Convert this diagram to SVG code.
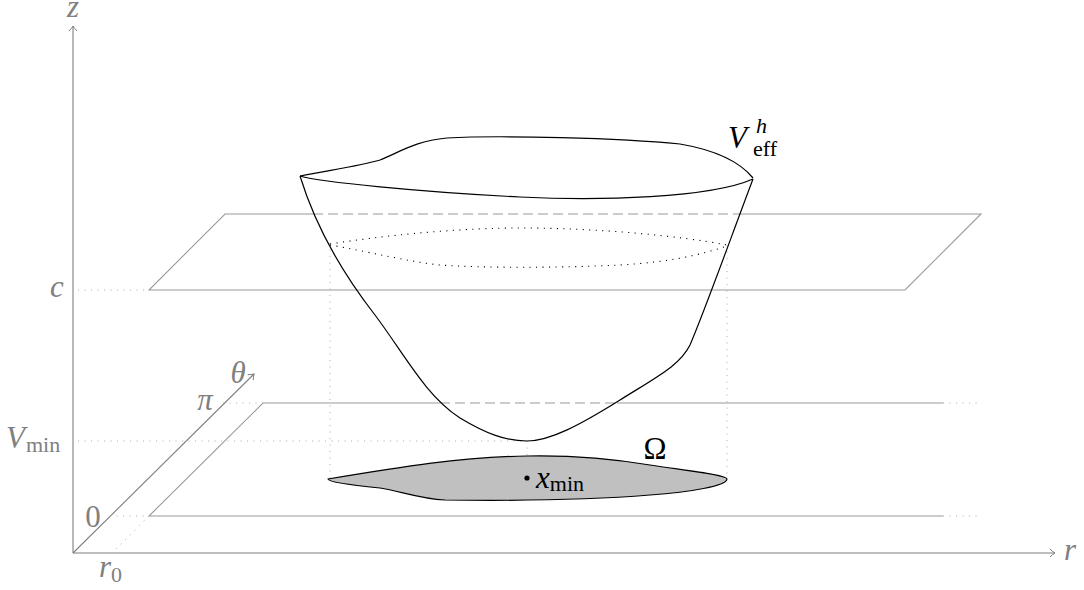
<svg xmlns="http://www.w3.org/2000/svg" width="1084" height="590" viewBox="0 0 1084 590">
<style>
.ax{stroke:#7f7f7f;stroke-width:1.1;fill:none}
.pl{stroke:#9a9a9a;stroke-width:1.1;fill:none}
.dash{stroke:#9a9a9a;stroke-width:1.1;fill:none;stroke-dasharray:10 5}
.gdot{stroke:#b0b0b0;stroke-width:1;fill:none;stroke-dasharray:1.1 5.4}
.bdot{stroke:#000;stroke-width:1.1;fill:none;stroke-dasharray:1.1 5.4}
.surf{stroke:#000;stroke-width:1.2;fill:none}
text{font-family:'Liberation Serif','Times New Roman','DejaVu Serif',serif}
.glab{font-size:31px;fill:#808080}
.blab{font-size:31px;fill:#000}
.it{font-style:italic}
.sub{font-size:22px;font-style:normal}
.subi{font-size:22px;font-style:italic}
</style>
<defs>
<marker id="arr" viewBox="-6 -5 7 10" refX="0" refY="0" markerWidth="7" markerHeight="10" markerUnits="userSpaceOnUse" orient="auto">
<path d="M-5,-4 Q-2,-1 0,0 Q-2,1 -5,4" fill="none" stroke="#7f7f7f" stroke-width="1"/>
</marker>
</defs>

<g id="axes">
<line class="ax" x1="73" y1="553" x2="73" y2="26" marker-end="url(#arr)"/>
<line class="ax" x1="73" y1="553" x2="1055" y2="553" marker-end="url(#arr)"/>
<line class="ax" x1="73" y1="553" x2="254" y2="374" marker-end="url(#arr)"/>
</g>

<g id="lower-plane">
<path class="pl" d="M943,516 L149,516 L263,403 L440,403"/>
<path class="dash" d="M440,403 L617,403"/>
<path class="pl" d="M617,403 L943,403"/>
<path class="gdot" d="M943,403 L980,403"/>
<path class="gdot" d="M943,516 L980,516"/>
<path class="gdot" d="M110,516 L149,516"/>
<path class="gdot" d="M223,403 L263,403"/>
<path class="gdot" d="M149,516 L112,553"/>
</g>

<g id="upper-plane">
<path class="pl" d="M313,214 L225,214 L149,290 L905,290 L981,214 L740,214"/>
<path class="dash" d="M313,214 L740,214"/>
<path class="gdot" d="M78,290 L149,290"/>
</g>

<g id="guides">
<path class="gdot" d="M78,441 L527,441"/>
<path class="gdot" d="M330,243 L330,478"/>
<path class="gdot" d="M727,245 L727,479"/>
<path class="gdot" d="M527,441 L527,478"/>
</g>

<g id="omega">
<path d="M328,479 C400,467 460,457 527,456 C580,455 620,460 650,465 C690,471 727,475 727,479 C727,486 690,492 650,495 C600,499 520,501 445,500 C420,499 400,491 380,488 C350,485 328,482 328,479 Z" fill="#c0c0c0" stroke="#000" stroke-width="1.2"/>
<circle cx="527" cy="478" r="2.6" fill="#000"/>
</g>

<g id="surface">
<path class="surf" d="M300,176 C330,170 360,166 380,160 C400,152 415,141 447,138 C500,135 620,138 680,144 C715,150 740,162 753,178"/>
<path class="surf" d="M300,176 C320,182 420,192 520,197 C600,201 710,198 753,179"/>
<path class="surf" d="M300,176 C315,225 340,270 375,315 C405,355 425,395 460,418 C485,433 505,441 527,441 C550,441 580,425 620,400 C660,375 680,365 690,345 C705,310 730,240 753,179"/>
<path class="bdot" d="M330,244 C400,233 470,228 520,228 C600,228 680,236 727,245"/>
<path class="bdot" d="M330,245 C370,252 410,262 440,265 C480,268 560,268 620,265 C670,262 700,255 727,246"/>
</g>

<g id="labels">
<text class="glab it" x="73" y="17" text-anchor="middle">z</text>
<text class="glab it" x="57" y="297" text-anchor="middle">c</text>
<text class="glab" x="6" y="448"><tspan class="it">V</tspan><tspan class="sub" dx="1" dy="4">min</tspan></text>
<text class="glab it" x="238" y="383" text-anchor="middle">θ</text>
<text class="glab it" x="205" y="410" text-anchor="middle">π</text>
<text class="glab" x="93" y="527" text-anchor="middle">0</text>
<text class="glab" x="99" y="577"><tspan class="it">r</tspan><tspan class="sub" dy="5">0</tspan></text>
<text class="glab it" x="1064" y="560">r</text>
<text class="blab it" x="728" y="148">V</text>
<text class="blab subi" x="756" y="133">h</text>
<text class="blab sub" x="753" y="156">eff</text>
<text class="blab" x="655" y="459" text-anchor="middle">Ω</text>
<text class="blab" x="536" y="488"><tspan class="it">x</tspan><tspan class="sub" dy="3">min</tspan></text>
</g>
</svg>
